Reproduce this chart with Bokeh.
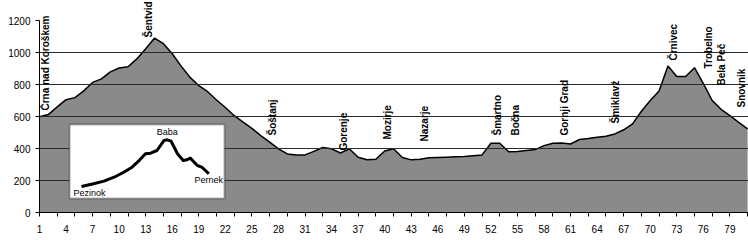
import math
from bokeh.plotting import figure
from bokeh.models import (ColumnDataSource, Range1d, FixedTicker, LinearAxis,
                          BoxAnnotation)
from bokeh.core.properties import value
from bokeh.embed import file_html
from bokeh.resources import INLINE

# ---- main profile (category 1..81, elevation in m) ----
categories = list(range(1, 82))
elevation = [598, 612, 660, 705, 718, 760, 813, 835, 879, 903,
             911, 960, 1023, 1090, 1055, 992, 915, 845, 793, 755,
             703, 656, 605, 565, 526, 480, 440, 398, 366, 360,
             360, 382, 406, 398, 372, 398, 345, 330, 333, 384,
             398, 344, 329, 333, 342, 344, 346, 348, 350, 355,
             360, 433, 433, 380, 381, 387, 393, 418, 433, 434,
             428, 456, 463, 471, 477, 491, 517, 554, 633, 700,
             760, 915, 850, 850, 905, 805, 700, 645, 606, 563,
             522]

# ---- station labels ----
label_names = ["Črna nad Koroškem", "Šentvid", "Šoštanj", "Gorenje", "Mozirje",
               "Nazarje", "Šmartno", "Bočna", "Gornji Grad", "Šmiklavž",
               "Črnivec", "Trobelno", "Bela Peč", "Snovnik"]
label_x = [1.68, 13.3, 27.3, 35.35, 40.3, 44.5, 52.75, 54.8, 60.3, 66.1,
           72.6, 76.6, 78.1, 80.3]
label_y = [637, 1094, 481, 387, 456, 444, 481, 481, 481, 556,
           950, 900, 794, 656]

# ---- axis ticks ----
y_ticks = [0, 200, 400, 600, 800, 1000, 1200]
x_label_ticks = list(range(1, 82, 3))
x_minor_ticks = list(range(1, 82, 2))

# ---- inset profile (Pezinok - Baba - Pernek) ----
inset_km = [0, 1.9, 3.5, 5.1, 6.6, 7.9, 9.0, 10.0, 10.8, 11.8,
            12.9, 13.4, 14.0, 15.0, 15.9, 16.5, 17.0, 18.1, 18.8, 19.9]
inset_elev = [160, 181, 202, 233, 272, 312, 364, 417, 422, 443,
              522, 527, 516, 417, 364, 370, 383, 325, 312, 260]
inset_names = ["Pezinok", "Baba", "Pernek"]
inset_idx = [0, 11, 19]

p = figure(width=748, height=240, output_backend="svg", toolbar_location=None,
           x_range=Range1d(1, 81.1), y_range=Range1d(0, 1200),
           min_border_left=39, min_border_right=0, min_border_top=20,
           min_border_bottom=28, x_axis_type=None, y_axis_type=None)
p.outline_line_color = None
p.background_fill_color = "white"
p.border_fill_color = "white"

src = ColumnDataSource(dict(x=categories, y=elevation))
p.varea(x="x", y1=0, y2="y", source=src, fill_color="#8a8a8a")
p.line(x="x", y="y", source=src, line_color="black", line_width=1.5)

# axes
yaxis = LinearAxis(ticker=FixedTicker(ticks=y_ticks))
yaxis.axis_line_color = "black"
yaxis.major_tick_out = 4
yaxis.major_tick_in = 0
yaxis.minor_tick_line_color = None
yaxis.major_label_standoff = 5
yaxis.major_label_text_font = "Liberation Sans"
yaxis.major_label_text_font_size = "10px"
yaxis.major_label_text_color = "black"
p.add_layout(yaxis, "left")

xaxis = LinearAxis(ticker=FixedTicker(ticks=x_label_ticks, minor_ticks=x_minor_ticks))
xaxis.axis_line_color = "black"
xaxis.major_tick_out = 0
xaxis.major_tick_in = 0
xaxis.minor_tick_out = 4
xaxis.minor_tick_in = 0
xaxis.minor_tick_line_color = "black"
xaxis.major_label_standoff = 8
xaxis.major_label_text_font = "Liberation Sans"
xaxis.major_label_text_font_size = "10px"
xaxis.major_label_text_color = "black"
p.add_layout(xaxis, "below")

# gridlines drawn over the area
from bokeh.models import Grid
grid = Grid(dimension=1, ticker=FixedTicker(ticks=[200, 400, 600, 800, 1000]))
grid.grid_line_color = "#2a2a2a"
grid.grid_line_width = 1
grid.level = "guide"
p.add_layout(grid)

# station labels
lsrc = ColumnDataSource(dict(x=label_x, y=label_y, t=label_names))
p.text(x="x", y="y", text="t", source=lsrc, angle=math.pi / 2,
       text_align="left", text_baseline="middle",
       text_font=value("Liberation Sans"), text_font_style="bold",
       text_font_size="10px", text_color="black", level="overlay")

# inset box
box = BoxAnnotation(left=4.4, right=21.9, top=550, bottom=87.5,
                    fill_color="white", fill_alpha=1.0,
                    line_color="black", line_width=2, level="annotation")
p.add_layout(box)

p.extra_x_ranges = {"inset": Range1d(-6.5625, 104.22)}
p.extra_y_ranges = {"inset": Range1d(-44.4, 1464.8)}
isrc = ColumnDataSource(dict(x=inset_km, y=inset_elev))
p.line(x="x", y="y", source=isrc, x_range_name="inset", y_range_name="inset",
       line_color="black", line_width=3, line_join="round", level="overlay")

nsrc = ColumnDataSource(dict(
    x=[inset_km[i] for i in inset_idx],
    y=[inset_elev[i] for i in inset_idx],
    t=inset_names,
    a=["left", "center", "center"],
    b=["top", "bottom", "top"],
    xo=[-8, 0, 0],
    yo=[2, -3, 1],
))
p.text(x="x", y="y", text="t", source=nsrc, x_range_name="inset",
       y_range_name="inset", text_align="a", text_baseline="b",
       x_offset="xo", y_offset="yo",
       text_font=value("Liberation Sans"), text_font_size="9px",
       text_color="black", level="overlay")

open("out.html", "w").write(file_html(p, INLINE))
